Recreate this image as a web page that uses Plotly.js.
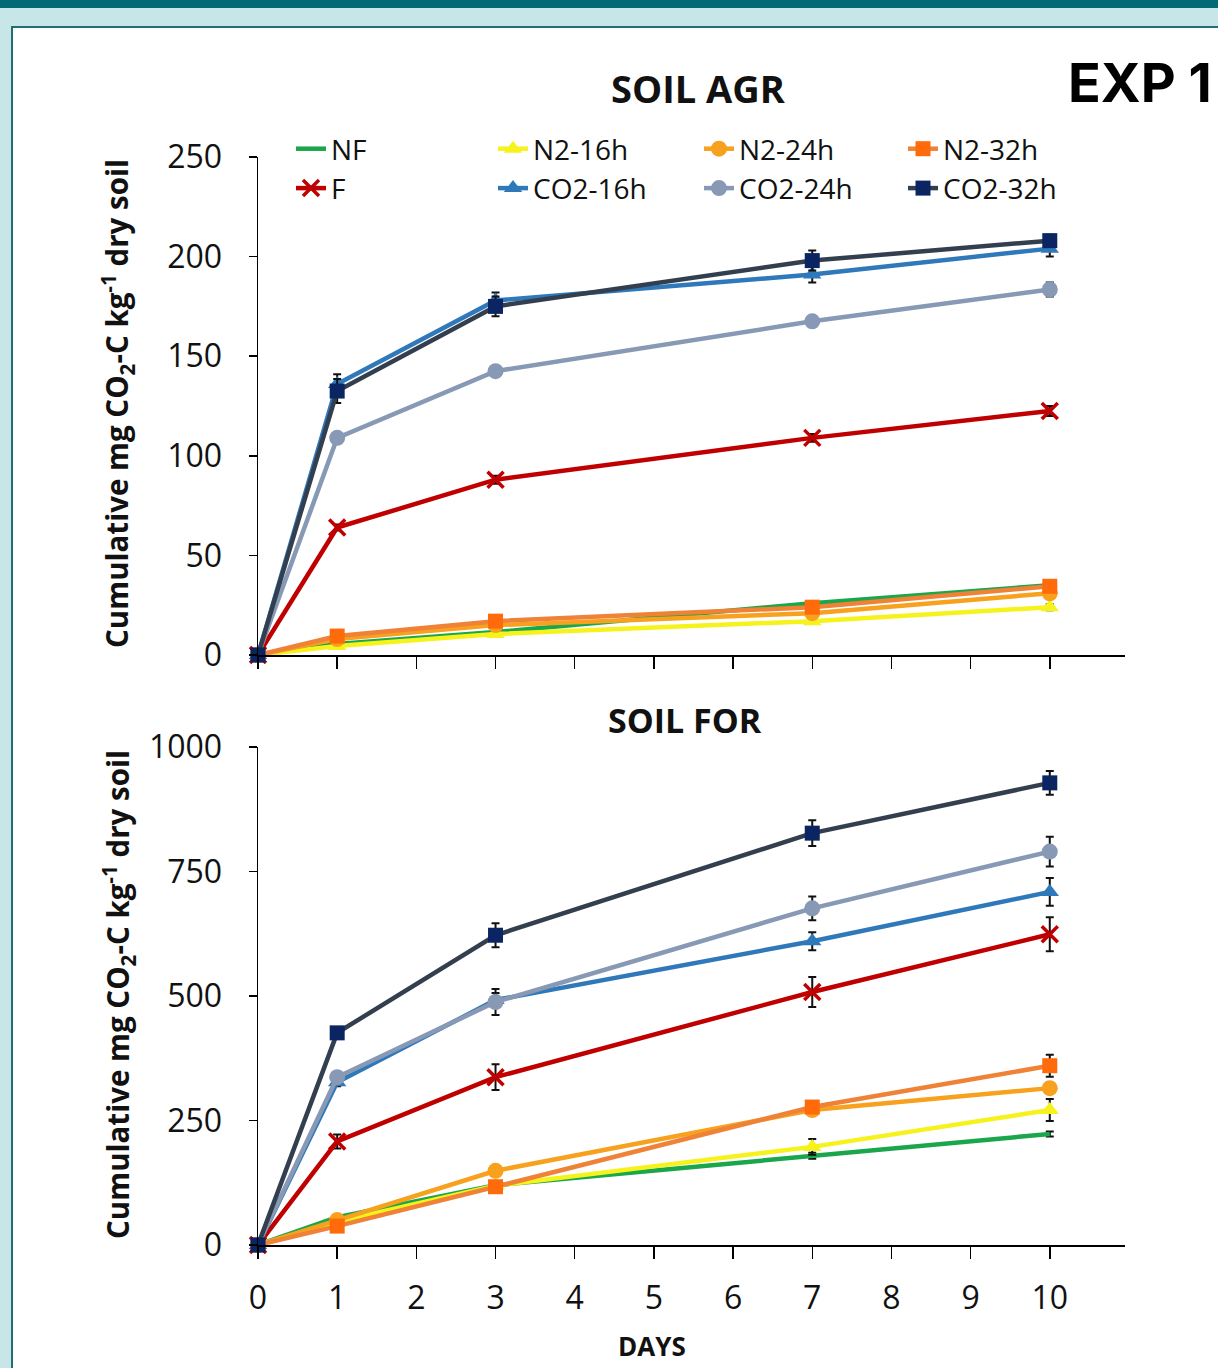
<!DOCTYPE html>
<html>
<head>
<meta charset="utf-8">
<script src="https://cdn.plot.ly/plotly-3.0.1.min.js"></script>
<style>
html,body{margin:0;padding:0;background:#c6e6e8;}
#chart{width:1218px;height:1368px;}
</style>
</head>
<body>
<div id="chart"></div>
<script>
// ---- data ----
const days = [0, 1, 3, 7, 10];
const seriesNames = ["NF", "F", "N2-16h", "CO2-16h", "N2-24h", "CO2-24h", "N2-32h", "CO2-32h"];

// SOIL AGR
const agrNF      = [0, 5.5, 11.5, 26, 35];
const agrN2_16h  = [0, 4.5, 10.5, 17, 24];
const agrN2_24h  = [0, 8, 15, 21, 31];
const agrN2_32h  = [0, 9.5, 17, 24, 34.5];
const agrF       = [0, 64, 88, 109, 122.5];
const agrCO2_16h = [0, 136, 178, 191, 204];
const agrCO2_24h = [0, 109, 142.5, 167.5, 183.5];
const agrCO2_32h = [0, 132.5, 175, 198, 208];

const agrErrNF      = [0, 0.5, 0.5, 1, 1];
const agrErrN2_16h  = [0, 0.5, 1, 1, 1.5];
const agrErrN2_24h  = [0, 0.5, 1, 1, 1.5];
const agrErrN2_32h  = [0, 1, 1, 1.5, 1.5];
const agrErrF       = [0, 1.5, 2, 2, 2.5];
const agrErrCO2_16h = [0, 5, 4, 4, 4];
const agrErrCO2_24h = [0, 2, 2, 2, 3.5];
const agrErrCO2_32h = [0, 6, 5, 5, 3];

// SOIL FOR
const forNF      = [0, 56, 120, 179, 223];
const forN2_16h  = [0, 47, 119, 197, 271];
const forN2_24h  = [0, 50, 149, 271, 315];
const forN2_32h  = [0, 38, 117, 277, 360];
const forF       = [0, 208, 337, 508, 624];
const forCO2_16h = [0, 327, 492, 610, 709];
const forCO2_24h = [0, 337, 488, 676, 790];
const forCO2_32h = [0, 426, 622, 827, 928];

const forErrNF      = [0, 3, 4, 6, 5];
const forErrN2_16h  = [0, 4, 6, 16, 22];
const forErrN2_24h  = [0, 4, 6, 10, 10];
const forErrN2_32h  = [0, 5, 6, 10, 22];
const forErrF       = [0, 14, 26, 30, 34];
const forErrCO2_16h = [0, 8, 14, 18, 28];
const forErrCO2_24h = [0, 8, 26, 24, 30];
const forErrCO2_32h = [0, 8, 24, 26, 24];

const yTicksAgr = [0, 50, 100, 150, 200, 250];
const yTicksFor = [0, 250, 500, 750, 1000];
const xTicks = [0, 1, 2, 3, 4, 5, 6, 7, 8, 9, 10];

// ---- styles ----
const styles = {
  "NF":      {legend: "legend",  line: "#1aa64b", marker: {symbol: "circle", size: 1, color: "#1aa64b"}, mode: "lines"},
  "F":       {legend: "legend",  line: "#c00000", marker: {symbol: "x-thin-open", size: 16, color: "#c00000", line: {width: 3.5, color: "#c00000"}}},
  "N2-16h":  {legend: "legend2", line: "#f6f21c", marker: {symbol: "triangle-up", size: 16, color: "#f6f21c"}},
  "CO2-16h": {legend: "legend2", line: "#2f78ba", marker: {symbol: "triangle-up", size: 16, color: "#2f78ba"}},
  "N2-24h":  {legend: "legend3", line: "#f7a11f", marker: {symbol: "circle", size: 16, color: "#f7a11f"}},
  "CO2-24h": {legend: "legend3", line: "#8799b4", marker: {symbol: "circle", size: 16, color: "#8799b4"}},
  "N2-32h":  {legend: "legend4", line: "#ef8236", marker: {symbol: "square", size: 15, color: "#ff6a0a"}},
  "CO2-32h": {legend: "legend4", line: "#333f4f", marker: {symbol: "square", size: 15, color: "#0b2462"}}
};
const drawOrder = ["NF", "N2-16h", "N2-24h", "N2-32h", "F", "CO2-16h", "CO2-24h", "CO2-32h"];

const agrData = {
  "NF": [agrNF, agrErrNF], "N2-16h": [agrN2_16h, agrErrN2_16h], "N2-24h": [agrN2_24h, agrErrN2_24h],
  "N2-32h": [agrN2_32h, agrErrN2_32h], "F": [agrF, agrErrF], "CO2-16h": [agrCO2_16h, agrErrCO2_16h],
  "CO2-24h": [agrCO2_24h, agrErrCO2_24h], "CO2-32h": [agrCO2_32h, agrErrCO2_32h]
};
const forData = {
  "NF": [forNF, forErrNF], "N2-16h": [forN2_16h, forErrN2_16h], "N2-24h": [forN2_24h, forErrN2_24h],
  "N2-32h": [forN2_32h, forErrN2_32h], "F": [forF, forErrF], "CO2-16h": [forCO2_16h, forErrCO2_16h],
  "CO2-24h": [forCO2_24h, forErrCO2_24h], "CO2-32h": [forCO2_32h, forErrCO2_32h]
};

function makeTrace(name, data, xa, ya, showLegend, rank) {
  const s = styles[name];
  return {
    type: "scatter",
    mode: s.mode || "lines+markers",
    name: name,
    legend: s.legend,
    legendrank: rank,
    showlegend: showLegend,
    x: days,
    y: data[name][0],
    xaxis: xa, yaxis: ya,
    line: {color: s.line, width: 4.5},
    marker: s.marker,
    error_y: {type: "data", array: data[name][1], visible: true, color: "#111", thickness: 2, width: 4},
    cliponaxis: false
  };
}

const traces = [];
drawOrder.forEach(n => traces.push(makeTrace(n, agrData, "x", "y", true, seriesNames.indexOf(n) + 1)));
drawOrder.forEach(n => traces.push(makeTrace(n, forData, "x2", "y2", false, seriesNames.indexOf(n) + 1)));

const W = 1218, H = 1368;
const px = v => v / W;
const py = v => 1 - v / H;
const FONT = "Open Sans, Noto Sans, sans-serif";

const axisCommon = {
  showgrid: false, zeroline: false, showline: true, linecolor: "#000", linewidth: 1.5,
  ticks: "outside", tickcolor: "#000", tickwidth: 1.5,
  tickfont: {family: FONT, size: 32, color: "#111"}, automargin: false, fixedrange: true
};

function legendAt(xPix) {
  return {
    orientation: "v", x: px(xPix), y: py(124), xanchor: "left", yanchor: "top",
    font: {family: FONT, size: 28, color: "#111"},
    itemwidth: 30, bgcolor: "rgba(0,0,0,0)", traceorder: "normal", tracegroupgap: 0,
    borderwidth: 0
  };
}

const layout = {
  width: W, height: H,
  margin: {l: 0, r: 0, t: 0, b: 0, pad: 0},
  paper_bgcolor: "#c6e6e8",
  plot_bgcolor: "rgba(0,0,0,0)",
  showlegend: true,
  legend: legendAt(291),
  legend2: legendAt(493),
  legend3: legendAt(699),
  legend4: legendAt(903),
  xaxis: Object.assign({}, axisCommon, {
    domain: [px(258), px(1125)], range: [0, 10.95], anchor: "y",
    tickvals: xTicks, showticklabels: false, ticklen: 12
  }),
  yaxis: Object.assign({}, axisCommon, {
    domain: [py(655), py(157)], range: [0, 250], anchor: "x",
    tickvals: yTicksAgr, ticklen: 8, ticklabelstandoff: 20
  }),
  xaxis2: Object.assign({}, axisCommon, {
    domain: [px(258), px(1125)], range: [0, 10.95], anchor: "y2",
    tickvals: xTicks, ticklen: 12, ticklabelstandoff: 12
  }),
  yaxis2: Object.assign({}, axisCommon, {
    domain: [py(1245), py(747)], range: [0, 1000], anchor: "x2",
    tickvals: yTicksFor, ticklen: 8, ticklabelstandoff: 20
  }),
  shapes: [
    {type: "rect", xref: "paper", yref: "paper", x0: 0, x1: 1, y0: py(0), y1: py(8), fillcolor: "#006a74", line: {width: 0}, layer: "below"},
    {type: "rect", xref: "paper", yref: "paper", x0: px(12), x1: px(1230), y0: py(1380), y1: py(27), fillcolor: "#ffffff", line: {width: 2, color: "#1f6f77"}, layer: "below"}
  ],
  annotations: [
    {text: "<b>SOIL AGR</b>", xref: "paper", yref: "paper", x: px(698), y: py(88), xanchor: "center", yanchor: "middle", showarrow: false, font: {family: FONT, size: 38, color: "#111"}},
    {text: "<b>SOIL FOR</b>", xref: "paper", yref: "paper", x: px(685), y: py(720), xanchor: "center", yanchor: "middle", showarrow: false, font: {family: FONT, size: 34, color: "#111"}},
    {text: "<b>EXP 1</b>", xref: "paper", yref: "paper", x: px(1214), y: py(82), xanchor: "right", yanchor: "middle", showarrow: false, font: {family: "Inter, sans-serif", size: 54, color: "#000", weight: 800}},
    {text: "<b>Cumulative mg CO<sub>2</sub>-C kg<sup>-1</sup> dry soil</b>", xref: "paper", yref: "paper", x: px(118), y: py(404), xanchor: "center", yanchor: "middle", textangle: -90, showarrow: false, font: {family: FONT, size: 29.5, color: "#111"}},
    {text: "<b>Cumulative mg CO<sub>2</sub>-C kg<sup>-1</sup> dry soil</b>", xref: "paper", yref: "paper", x: px(118), y: py(995), xanchor: "center", yanchor: "middle", textangle: -90, showarrow: false, font: {family: FONT, size: 29.5, color: "#111"}},
    {text: "<b>DAYS</b>", xref: "paper", yref: "paper", x: px(652), y: py(1346), xanchor: "center", yanchor: "middle", showarrow: false, font: {family: FONT, size: 26, color: "#111"}}
  ]
};

Plotly.newPlot("chart", traces, layout, {staticPlot: true, displayModeBar: false});
</script>
</body>
</html>
